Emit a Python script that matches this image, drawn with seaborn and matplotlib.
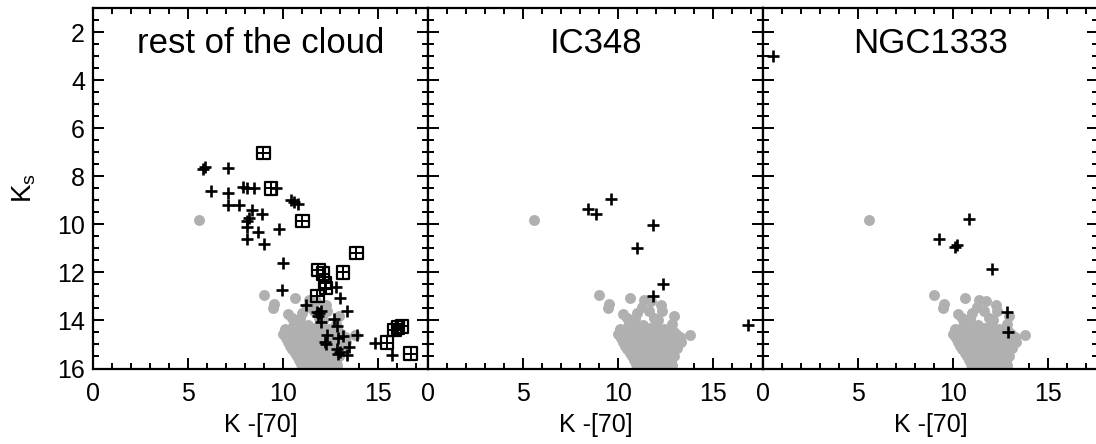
import matplotlib
matplotlib.use('Agg')
import matplotlib.pyplot as plt
import seaborn as sns
from matplotlib.ticker import MultipleLocator

# --- DATA ---
# grey reference cloud, the same in every panel
cloud_x = [5.55,
           9.0, 9.5, 9.45, 10.6, 11.35, 11.25, 11.7, 12.25, 12.3, 12.95, 12.8,
           10.25, 10.45, 10.9, 11.0, 11.6, 11.9, 12.1, 13.25, 13.75, 13.3,
           10.1, 10.5, 10.9, 11.3, 11.65, 12.0, 12.4, 12.75,
           10.3, 10.7, 11.1, 11.5, 11.85, 12.2, 12.55, 12.9,
           10.0, 10.35, 10.7, 11.1, 11.5, 11.9, 12.3, 12.7, 13.05,
           10.15, 10.5, 10.85, 11.2, 11.6, 12.0, 12.4, 12.8, 13.15,
           10.25, 10.6, 11.0, 11.4, 11.8, 12.2, 12.6, 12.95,
           10.35, 10.7, 11.1, 11.5, 11.9, 12.3, 12.7, 13.05,
           10.45, 10.8, 11.2, 11.6, 12.0, 12.4, 12.8, 13.1,
           10.6, 10.95, 11.35, 11.75, 12.15, 12.55, 12.9,
           10.7, 11.05, 11.4, 11.8, 12.2, 12.6, 12.95,
           10.85, 11.2, 11.55, 11.95, 12.35, 12.75,
           10.95, 11.3, 11.7, 12.1, 12.5, 12.85,
           11.15, 11.5, 11.9, 12.3, 12.7,
           11.3, 11.7, 12.1, 12.5, 12.85]
cloud_y = [9.83,
           12.95, 13.3, 13.5, 13.05, 13.15, 13.45, 13.2, 13.35, 13.6, 13.8, 14.15,
           13.75, 13.9, 13.95, 13.7, 13.6, 13.9, 14.0, 14.7, 14.6, 14.9,
           14.35, 14.25, 14.3, 14.2, 14.3, 14.25, 14.35, 14.4,
           14.45, 14.5, 14.45, 14.4, 14.5, 14.45, 14.5, 14.45,
           14.55, 14.65, 14.6, 14.55, 14.65, 14.6, 14.55, 14.65, 14.55,
           14.75, 14.8, 14.75, 14.8, 14.75, 14.8, 14.75, 14.8, 14.75,
           14.9, 14.95, 14.85, 14.95, 14.9, 14.85, 14.95, 14.9,
           15.05, 15.0, 15.05, 15.1, 15.05, 15.0, 15.05, 15.0,
           15.2, 15.15, 15.25, 15.2, 15.15, 15.25, 15.2, 15.15,
           15.35, 15.4, 15.35, 15.4, 15.35, 15.4, 15.35,
           15.5, 15.45, 15.55, 15.5, 15.45, 15.55, 15.5,
           15.65, 15.7, 15.65, 15.7, 15.65, 15.7,
           15.8, 15.75, 15.85, 15.8, 15.75, 15.85,
           15.95, 15.9, 15.95, 15.9, 15.95,
           16.05, 16.1, 16.05, 16.1, 16.0]

titles = ['rest of the cloud', 'IC348', 'NGC1333']

# rest of the cloud: plain sources (+)
rest_x = [5.75, 5.9, 7.1, 6.2, 7.1, 7.1, 7.65, 7.9, 8.1, 8.45, 9.6, 8.35, 8.9,
          8.1, 8.2, 8.1, 8.1, 8.65, 9.0, 9.75, 10.4, 10.55, 10.75, 10.0, 9.95,
          11.2, 11.75, 11.9, 12.0, 11.85, 12.0, 12.8, 13.0, 13.35, 12.65, 12.85,
          12.3, 12.2, 12.9, 13.15, 12.85, 12.9, 13.45, 13.35, 13.9, 14.8, 15.7,
          12.25, 13.0]
rest_y = [7.7, 7.6, 7.65, 8.6, 8.7, 9.2, 9.2, 8.45, 8.5, 8.5, 8.5, 9.4, 9.55,
          9.85, 9.75, 10.1, 10.6, 10.3, 10.8, 10.2, 9.0, 9.05, 9.15, 11.6, 12.75,
          13.35, 13.65, 13.7, 13.6, 13.8, 14.05, 12.6, 13.05, 13.6, 13.95, 14.25,
          14.6, 14.9, 14.75, 14.65, 15.2, 15.4, 15.1, 15.45, 14.6, 14.95, 15.45,
          15.0, 15.3]

# rest of the cloud: boxed sources
box_x = [8.95, 9.35, 11.0, 13.85, 11.85, 12.1, 13.15, 12.2, 12.25, 11.8,
         15.45, 15.85, 16.05, 16.25, 16.7]
box_y = [7.03, 8.5, 9.85, 11.2, 11.9, 12.05, 12.0, 12.45, 12.65, 12.97,
         14.92, 14.4, 14.3, 14.25, 15.38]

ic348_x = [9.6, 8.4, 8.85, 11.8, 11.0, 12.35, 11.8, 16.8]
ic348_y = [8.93, 9.35, 9.58, 10.04, 11.0, 12.5, 13.0, 14.2]

ngc1333_x = [0.5, 10.85, 9.25, 10.1, 10.2, 12.05, 12.85, 12.9]
ngc1333_y = [3.0, 9.76, 10.6, 10.95, 10.87, 11.85, 13.65, 14.5]

plus_x = [rest_x, ic348_x, ngc1333_x]
plus_y = [rest_y, ic348_y, ngc1333_y]

# --- STYLE ---
sns.set_style('ticks')
plt.rcParams['font.family'] = ['Liberation Sans', 'DejaVu Sans']
plt.rcParams['mathtext.default'] = 'regular'
for key in ['text.color', 'axes.labelcolor', 'xtick.color', 'ytick.color',
            'axes.edgecolor']:
    plt.rcParams[key] = 'black'

GREY = '#b0b0b0'
W, H = 1096, 444
lefts = [93.3, 428.3, 763.3]
pw = 335.0
top_px, bot_px = 8.3, 368.5

fig = plt.figure(figsize=(W / 100, H / 100), dpi=100)

for i, left in enumerate(lefts):
    ax = fig.add_axes([left / W, (H - bot_px) / H, pw / W, (bot_px - top_px) / H])

    sns.scatterplot(x=cloud_x, y=cloud_y, ax=ax, color=GREY, s=62,
                    linewidth=0, zorder=1)
    sns.scatterplot(x=plus_x[i], y=plus_y[i], ax=ax, marker='+', color='k',
                    s=65, linewidth=1.9, zorder=3)
    if i == 0:
        sns.scatterplot(x=box_x, y=box_y, ax=ax, marker='s', color='k',
                        facecolor='none', edgecolor='k', s=80, linewidth=1.6,
                        zorder=3)
        sns.scatterplot(x=box_x, y=box_y, ax=ax, marker='+', color='k',
                        s=80, linewidth=1.4, zorder=3)

    ax.set_xlim(0, pw / 19.0)
    ax.set_ylim(16, 1)
    ax.xaxis.set_major_locator(MultipleLocator(5))
    ax.xaxis.set_minor_locator(MultipleLocator(1))
    ax.yaxis.set_major_locator(MultipleLocator(2))
    ax.yaxis.set_minor_locator(MultipleLocator(0.5))

    ax.tick_params(which='both', direction='in', top=True, right=True,
                   width=1.4, color='k', labelcolor='k')
    ax.tick_params(which='major', length=8, labelsize=18)
    ax.tick_params(which='minor', length=4)
    ax.tick_params(axis='x', pad=10)
    ax.tick_params(axis='y', pad=6)
    for sp in ax.spines.values():
        sp.set_linewidth(1.6)
        sp.set_color('k')

    ax.text(0.5, 0.875, titles[i], transform=ax.transAxes, ha='center',
            va='baseline', fontsize=25, color='k')
    ax.set_xlabel('K -[70]', fontsize=18, labelpad=5, color='k')
    if i == 0:
        ax.set_ylabel('K$_s$', fontsize=20, labelpad=14, color='k')
    else:
        ax.set_ylabel('')
        ax.tick_params(labelleft=False)

fig.savefig('out.png', dpi=100)
